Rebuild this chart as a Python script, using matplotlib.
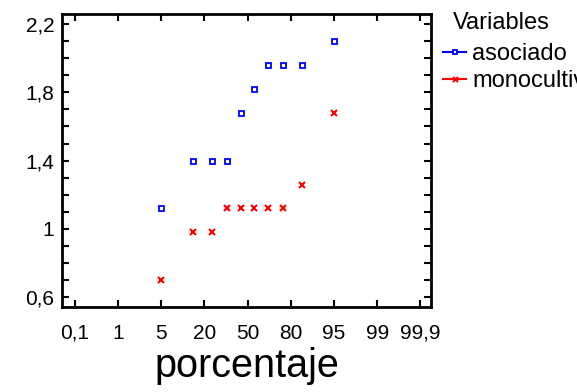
import matplotlib
matplotlib.use("Agg")
import matplotlib.pyplot as plt
import numpy as np
from statistics import NormalDist

plt.rcParams['font.family'] = ['Liberation Sans', 'DejaVu Sans']

# valores ordenados de cada variable
asociado = [1.12, 1.40, 1.40, 1.40, 1.68, 1.82, 1.96, 1.96, 1.96, 2.10]
monocultivo = [0.70, 0.98, 0.98, 1.12, 1.12, 1.12, 1.12, 1.12, 1.26, 1.68]
nombres = ["asociado", "monocultivo"]

etiquetas_x = ["0,1", "1", "5", "20", "50", "80", "95", "99", "99,9"]
ticks_y = [0.6, 1.0, 1.4, 1.8, 2.2]
etiquetas_y = ["0,6", "1", "1,4", "1,8", "2,2"]

nd = NormalDist()


def posiciones(n):
    # posiciones de trazado (i - 0.5)/n en escala normal
    return [nd.inv_cdf((i - 0.5) / n) for i in range(1, n + 1)]


fig = plt.figure(figsize=(5.77, 3.92), dpi=100)
ax = fig.add_axes([0.1083, 0.2168, 0.6387, 0.7475])

ax.plot(posiciones(len(asociado)), asociado, linestyle="none", marker="s",
        markersize=3.6, markerfacecolor="white", markeredgecolor="#0000ff",
        markeredgewidth=1.3, color="#0000ff", label=nombres[0])
ax.plot(posiciones(len(monocultivo)), monocultivo, linestyle="none", marker="x",
        markersize=4.5, markeredgewidth=1.5, color="#ff0000", label=nombres[1])

paso = nd.inv_cdf(0.95) / 2
ax.set_xticks(np.arange(-4, 5) * paso)
ax.set_xticklabels(etiquetas_x)
ax.set_xlim(-3.52, 3.49)

ax.set_yticks(ticks_y)
ax.set_yticklabels(etiquetas_y)
ax.set_yticks(np.arange(0.6, 2.25, 0.1), minor=True)
ax.set_ylim(0.543, 2.258)

for s in ax.spines.values():
    s.set_linewidth(2)
ax.tick_params(which="both", direction="in", top=True, right=True,
               width=1.5, length=5, labelsize=15)
ax.tick_params(axis="x", which="minor", bottom=False, top=False)
ax.tick_params(axis="x", pad=12)
ax.tick_params(axis="y", pad=6)

ax.set_xlabel("porcentaje", fontsize=28.5, labelpad=3)

# leyenda fuera del area de trazado
fig.text(453 / 577, 1 - 12 / 392, "Variables", fontsize=17, ha="left", va="top")
leg = ax.legend(loc="upper left", bbox_to_anchor=(1.032, 0.9),
                frameon=False, fontsize=17, handlelength=1.0,
                handletextpad=0.25, borderaxespad=0, borderpad=0,
                labelspacing=0.2, markerscale=0.8)
for h in leg.legend_handles:
    h.set_linestyle("-")
    h.set_linewidth(1.5)

fig.savefig("out.png", dpi=100)
